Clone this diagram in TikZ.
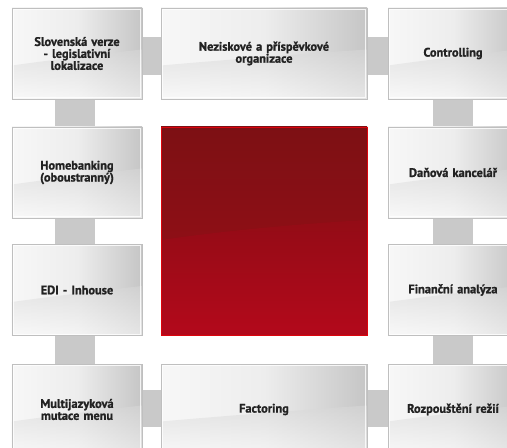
\documentclass[tikz,border=0pt]{standalone}
\usepackage{fontspec}
\newfontfamily\boxfont{PT Sans}[BoldFont={* Bold}, BoldFeatures={FakeBold=1.2}]
\usetikzlibrary{backgrounds}
\definecolor{redtop}{HTML}{7D1014}
\definecolor{redmid}{HTML}{9C0E17}
\definecolor{redband}{HTML}{7A0E12}
\definecolor{redbot}{HTML}{B3091B}
\definecolor{txt}{HTML}{222222}
\begin{document}
\begin{tikzpicture}[x=1bp,y=-1bp,
  glossbox/.style={draw=gray!50, line width=0.6bp, minimum width=130bp, minimum height=91bp,
    inner sep=0bp, align=center, text width=128bp,
    font=\boxfont\bfseries\fontsize{12.4}{12}\selectfont, text=txt,
    left color=gray!6, right color=gray!45, middle color=gray!14,
    path picture={
      \shade[top color=gray!55, bottom color=gray!4, opacity=0.6]
        (path picture bounding box.south west) -- ([yshift=-12bp]path picture bounding box.west)
        .. controls ([yshift=-3bp]path picture bounding box.center) and ([yshift=4bp]path picture bounding box.east)
        .. ([yshift=4bp]path picture bounding box.east) -- (path picture bounding box.south east) -- cycle;
      \draw[white, line width=1.2bp, opacity=0.8]
        ([shift={(1.2bp,-1.2bp)}]path picture bounding box.north west) rectangle
        ([shift={(-1.2bp,1.2bp)}]path picture bounding box.south east);
    }},
  widebox/.style={glossbox, minimum width=206bp, text width=200bp},
  corebox/.style={draw=red!55!redbot, line width=0.6bp, minimum width=206bp, minimum height=208bp,
    inner sep=0bp, top color=redtop, bottom color=redmid,
    path picture={
      \shade[top color=redband, bottom color=redbot]
        (path picture bounding box.south west) -- ([yshift=-9bp]path picture bounding box.west)
        .. controls ([yshift=6bp]path picture bounding box.center) and ([yshift=11bp]path picture bounding box.east)
        .. ([yshift=11bp]path picture bounding box.east) -- (path picture bounding box.south east) -- cycle;
    }},
  conn/.style={fill=gray!42}
]
\clip (0,0) rectangle (507,448);
% row 1
\node[glossbox] (a1) at (77,53.5) {Slovenská verze\\- legislativní\\lokalizace};
\node[widebox]  (m1) at (264,53.5) {Neziskové a příspěvkové\\organizace};
\node[glossbox] (r1) at (453,53.5) {Controlling};
% row 2
\node[glossbox] (a2) at (77,172.5) {Homebanking\\(oboustranný)};
\node[corebox]  (core) at (264,231) {};
\node[glossbox] (r2) at (453,172.5) {Daňová kancelář};
% row 3
\node[glossbox] (a3) at (77,290) {EDI - Inhouse};
\node[glossbox] (r3) at (453,290) {Finanční analýza};
% row 4
\node[glossbox] (a4) at (77,409.5) {Multijazyková\\mutace menu};
\node[widebox]  (m4) at (264,409.5) {Factoring};
\node[glossbox] (r4) at (453,409.5) {Rozpouštění režií};
\begin{scope}[on background layer]
  \fill[white] (0,0) rectangle (507,448);
  % horizontal connectors
  \fill[conn] ([yshift=-29bp]a1.north east) rectangle ([yshift=-67bp]m1.north west);
  \fill[conn] ([yshift=-29bp]m1.north east) rectangle ([yshift=-67bp]r1.north west);
  \fill[conn] ([yshift=-26bp]a4.north east) rectangle ([yshift=-63bp]m4.north west);
  \fill[conn] ([yshift=-26bp]m4.north east) rectangle ([yshift=-63bp]r4.north west);
  % vertical connectors
  \fill[conn] ([xshift=-22bp]a1.south) rectangle ([xshift=18bp]a2.north);
  \fill[conn] ([xshift=-22bp]a2.south) rectangle ([xshift=18bp]a3.north);
  \fill[conn] ([xshift=-22bp]a3.south) rectangle ([xshift=18bp]a4.north);
  \fill[conn] ([xshift=-20bp]r1.south) rectangle ([xshift=20bp]r2.north);
  \fill[conn] ([xshift=-20bp]r2.south) rectangle ([xshift=20bp]r3.north);
  \fill[conn] ([xshift=-20bp]r3.south) rectangle ([xshift=20bp]r4.north);
\end{scope}
\end{tikzpicture}
\end{document}
